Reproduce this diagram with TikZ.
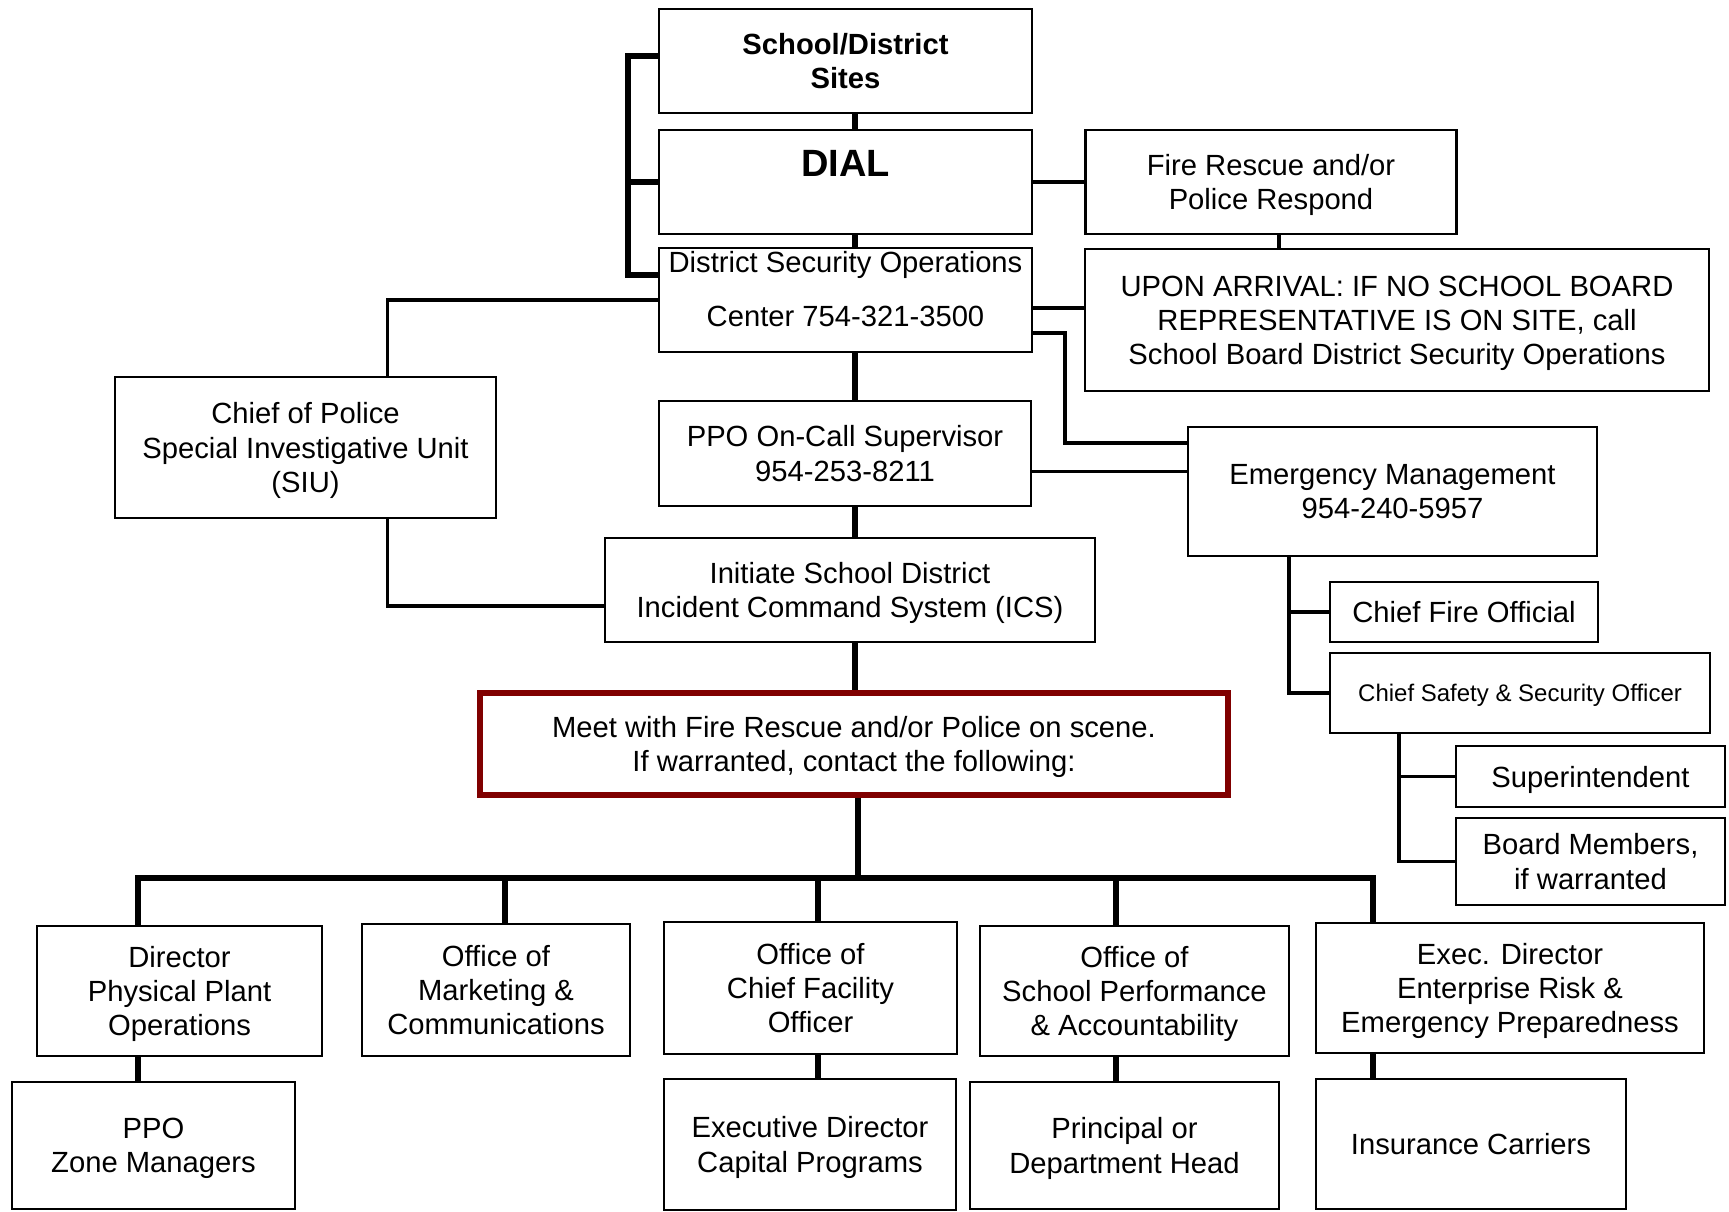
\documentclass[tikz,border=0pt]{standalone}
\usepackage{fontspec}
\setmainfont{Liberation Sans}
\definecolor{meetred}{RGB}{128,0,0}
\tikzset{
  box/.style={draw, line width=1.3pt, align=center, inner sep=2pt, text depth=0pt, font=\fontsize{14.6}{17.1}\selectfont},
  boxsize/.style 2 args={minimum width=#1*0.5pt, minimum height=#2*0.5pt},
  conn/.style={line width=1.8pt},
  trunk/.style={line width=2.9pt},
}
\begin{document}
\begin{tikzpicture}[x=0.5pt, y=-0.5pt]
\useasboundingbox (0,0) rectangle (1729,1211);

% main column
\node[box, boxsize={373}{104}, font=\bfseries\fontsize{14.6}{17.1}\selectfont] (sites) at (845.5,61) {School/District\\Sites};
\node[box, boxsize={373}{104}] (dial) at (845.5,182) {};
\node[font=\bfseries\fontsize{19}{22}\selectfont, inner sep=0pt] (dial-t) at (845.5,163) {DIAL};
\node[box, boxsize={373}{104}] (dsoc) at (845.5,300) {};
\node[box, draw=none, inner sep=0pt] (dsoc-t) at (845.5,289) {District Security Operations\\[9.5pt]Center 754-321-3500};
\node[box, boxsize={372}{105}] (ppo) at (845,453.5) {PPO On-Call Supervisor\\954-253-8211};
\node[box, boxsize={490}{104}] (ics) at (850,590) {Initiate School District\\Incident Command System (ICS)};
\node[box, boxsize={748}{102}, draw=meetred, line width=2.6pt] (meet) at (854,744) {Meet with Fire Rescue and/or Police on scene.\\If warranted, contact the following:};

% left and right of the column
\node[box, boxsize={381}{141}] (cop) at (305.5,447.5) {Chief of Police\\Special Investigative Unit\\(SIU)};
\node[box, boxsize={371}{104}] (fire) at (1271,182) {Fire Rescue and/or\\Police Respond};
\node[box, boxsize={624}{142}] (upon) at (1397,320) {UPON ARRIVAL: IF NO SCHOOL BOARD\\REPRESENTATIVE IS ON SITE, call\\School Board District Security Operations};
\node[box, boxsize={409}{129}] (em) at (1392.5,491.5) {Emergency Management\\954-240-5957};
\node[box, boxsize={268}{60}] (cfoff) at (1464,612) {Chief Fire Official};
\node[box, boxsize={380}{80}, font=\fontsize{12}{14}\selectfont] (csso) at (1520,693) {Chief Safety \& Security Officer};
\node[box, boxsize={269}{61}] (supt) at (1590.5,776.5) {Superintendent};
\node[box, boxsize={269}{87}] (board) at (1590.5,861.5) {Board Members,\\if warranted};

% contacts
\node[box, boxsize={285}{130}] (dir) at (179.5,991) {Director\\Physical Plant\\Operations};
\node[box, boxsize={268}{132}] (mkt) at (496,990) {Office of\\Marketing \&\\Communications};
\node[box, boxsize={293}{132}] (cfo) at (810.5,988) {Office of\\Chief Facility\\Officer};
\node[box, boxsize={309}{130}] (spa) at (1134.5,991) {Office of\\School Performance\\\& Accountability};
\node[box, boxsize={388}{130}] (erp) at (1510,988) {Exec. Director\\Enterprise Risk \&\\Emergency Preparedness};
\node[box, boxsize={283}{127}] (zone) at (153.5,1145.5) {PPO\\Zone Managers};
\node[box, boxsize={292}{131}] (cap) at (810,1144.5) {Executive Director\\Capital Programs};
\node[box, boxsize={309}{127}] (prin) at (1124.5,1145.5) {Principal or\\Department Head};
\node[box, boxsize={310}{130}] (ins) at (1471,1144) {Insurance Carriers};

% spine
\coordinate (spine) at (855,0);
\foreach \a/\b in {sites/dial, dial/dsoc, dsoc/ppo, ppo/ics, ics/meet}
  \draw[trunk] (spine |- \a.south) -- (spine |- \b.north);
\coordinate (brk) at (628,182);
\draw[trunk] ([yshift=2.5pt]sites.west) -| (brk) |- ([yshift=12.5pt]dsoc.west);
\draw[trunk] (dial.west) -- (brk);

% thin links
\draw[conn] (dial.east) -- (fire.west);
\draw[conn] ([xshift=4pt]fire.south) -- ([xshift=4pt]fire.south |- upon.north);
\draw[conn] ([yshift=-4pt]dsoc.east) -- ([yshift=-4pt]dsoc.east -| upon.west);
\coordinate (emjog) at (1065,443);
\draw[conn] ([yshift=-16.5pt]dsoc.east) -| (emjog) -- (emjog -| em.west);
\draw[conn] ([yshift=-9pt]ppo.east) -- ([yshift=-9pt]ppo.east -| em.west);
\draw[conn] (dsoc.west) -| ([xshift=41pt]cop.north);
\draw[conn] ([xshift=41pt]cop.south) |- ([yshift=-8pt]ics.west);
\coordinate (emdrop) at (1289,556);
\draw[conn] (emdrop) |- (cfoff.west);
\draw[conn] (emdrop) |- (csso.west);
\coordinate (cssodrop) at (1399,733);
\draw[conn] (cssodrop) |- (supt.west);
\draw[conn] (cssodrop) |- (board.west);

% bus to contacts
\coordinate (bus) at (858,878);
\draw[trunk] (meet.south -| bus) -- (bus);
\foreach \n/\x in {dir/138, mkt/505, cfo/818, spa/1116, erp/1373}
  \coordinate (b\n) at (\x,878);
\draw[trunk] (bdir |- dir.north) -- (bdir) -- (berp) -- (berp |- erp.north);
\foreach \n in {mkt, cfo, spa}
  \draw[trunk] (b\n) -- (b\n |- \n.north);
\foreach \a/\b in {dir/zone, cfo/cap, spa/prin, erp/ins}
  \draw[trunk] (b\a |- \a.south) -- (b\a |- \b.north);
\end{tikzpicture}
\end{document}
